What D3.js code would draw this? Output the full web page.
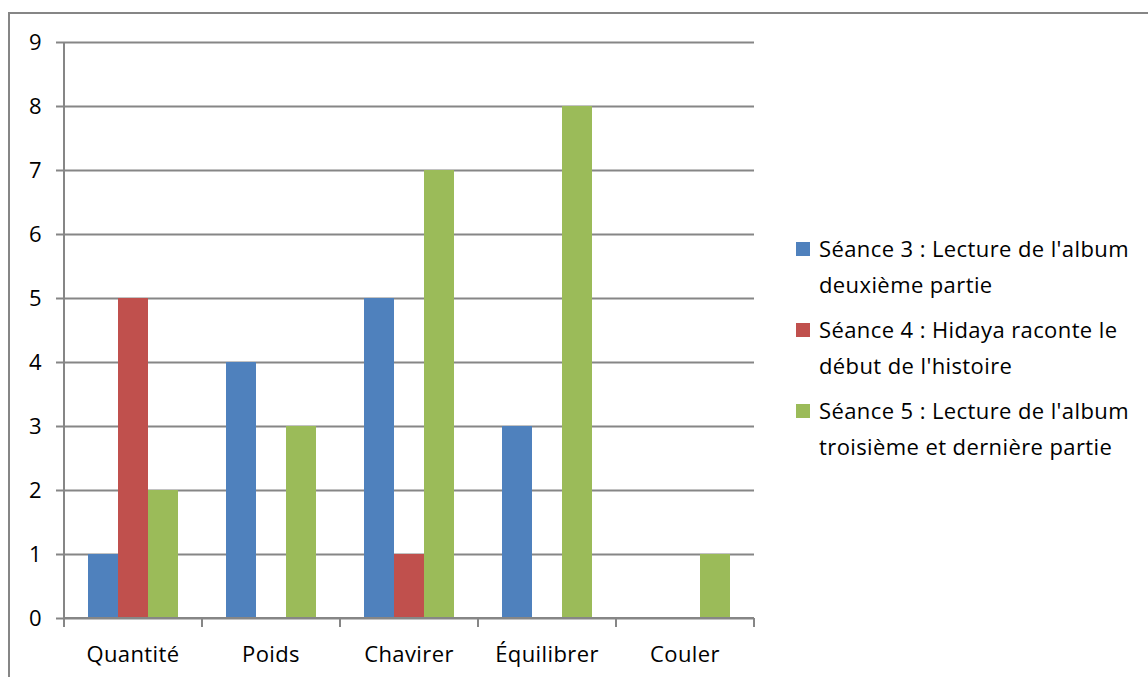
<!DOCTYPE html>
<html>
<head>
<meta charset="utf-8">
<script src="https://cdn.jsdelivr.net/npm/d3@7"></script>
<style>
  body { margin: 0; background: #fff; }
  svg { display: block; font-family: "Open Sans", sans-serif; }
  text { font-size: 22px; letter-spacing: 0.4px; fill: #000; }
</style>
</head>
<body>
<div id="chart"></div>
<script>
var categories = ['Quantité', 'Poids', 'Chavirer', 'Équilibrer', 'Couler'];
var seriesNames = [
  ["Séance 3 : Lecture de l'album", "deuxième partie"],
  ["Séance 4 : Hidaya raconte le", "début de l'histoire"],
  ["Séance 5 : Lecture de l'album", "troisième et dernière partie"]
];
var seance3 = [1, 4, 5, 3, 0];
var seance4 = [5, 0, 1, 0, 0];
var seance5 = [2, 3, 7, 8, 1];
var yTicks = [0, 1, 2, 3, 4, 5, 6, 7, 8, 9];
var colors = ['#4F81BD', '#C0504D', '#9BBB59'];

var series = [seance3, seance4, seance5];

var width = 1148,
    height = 677,
    plotLeft = 64, plotRight = 754,
    plotTop = 42, plotBottom = 618;

var svg = d3.select('#chart').append('svg')
    .attr('width', width)
    .attr('height', height);

// outer frame
svg.append('rect')
    .attr('x', 9).attr('y', 13)
    .attr('width', 1200).attr('height', 700)
    .attr('fill', 'none')
    .attr('stroke', '#868686')
    .attr('stroke-width', 2);

var x0 = d3.scaleBand().domain(categories).range([plotLeft, plotRight]);
var x1 = d3.scaleBand().domain([0, 1, 2])
    .range([0, x0.bandwidth()])
    .paddingOuter(0.8);
var y = d3.scaleLinear().domain([0, 9]).range([plotBottom, plotTop]);

// gridlines + y axis
var yAxis = d3.axisLeft(y)
    .tickValues(yTicks)
    .tickSize(-(plotRight - plotLeft))
    .tickPadding(22);
var gy = svg.append('g')
    .attr('transform', 'translate(' + plotLeft + ',0)')
    .call(yAxis)
    .attr('font-size', null)
    .attr('font-family', null);
gy.select('.domain').remove();
gy.selectAll('.tick line')
    .attr('x1', -8)
    .attr('stroke', '#868686')
    .attr('stroke-width', 2);
gy.selectAll('.tick text')
    .attr('fill', '#000');

// bars
svg.append('g').selectAll('g')
  .data(categories)
  .enter().append('g')
    .attr('transform', function(d) { return 'translate(' + x0(d) + ',0)'; })
  .selectAll('rect')
  .data(function(d, i) { return series.map(function(s, j) { return { s: j, v: s[i] }; }); })
  .enter().append('rect')
    .attr('x', function(d) { return x1(d.s); })
    .attr('width', x1.bandwidth())
    .attr('y', function(d) { return y(d.v); })
    .attr('height', function(d) { return y(0) - y(d.v); })
    .attr('fill', function(d) { return colors[d.s]; });

// y axis line
svg.append('line')
    .attr('x1', plotLeft).attr('x2', plotLeft)
    .attr('y1', plotTop).attr('y2', plotBottom)
    .attr('stroke', '#868686')
    .attr('stroke-width', 2);

// x axis
var gx = svg.append('g')
    .attr('transform', 'translate(0,' + plotBottom + ')');
gx.append('line')
    .attr('x1', plotLeft).attr('x2', plotRight)
    .attr('stroke', '#868686').attr('stroke-width', 2);
gx.selectAll('.tk')
  .data(categories.map(function(c) { return x0(c); }).concat([plotRight]))
  .enter().append('line')
    .attr('x1', function(d) { return d; })
    .attr('x2', function(d) { return d; })
    .attr('y1', 0).attr('y2', 9)
    .attr('stroke', '#868686').attr('stroke-width', 2);
gx.selectAll('text')
  .data(categories)
  .enter().append('text')
    .attr('x', function(d) { return x0(d) + x0.bandwidth() / 2; })
    .attr('y', 44)
    .attr('text-anchor', 'middle')
    .text(function(d) { return d; });

// legend
var legend = svg.append('g').selectAll('g')
  .data(seriesNames)
  .enter().append('g')
    .attr('transform', function(d, i) { return 'translate(796,' + (242 + i * 81) + ')'; });
legend.append('rect')
    .attr('width', 14).attr('height', 14)
    .attr('fill', function(d, i) { return colors[i]; });
legend.append('text')
    .attr('x', 23)
    .attr('y', 15)
    .selectAll('tspan')
    .data(function(d) { return d; })
    .enter().append('tspan')
      .attr('x', 23)
      .attr('dy', function(d, i) { return i ? 36 : 0; })
      .text(function(d) { return d; });
</script>
</body>
</html>
